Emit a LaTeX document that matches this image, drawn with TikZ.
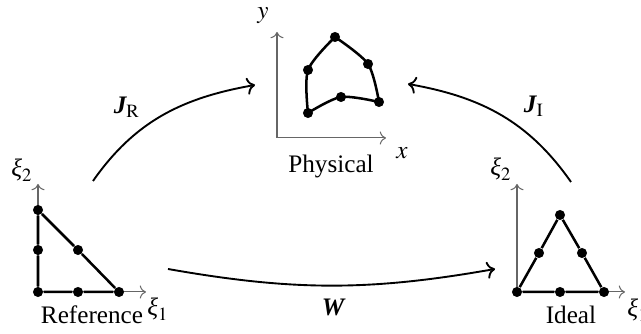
\documentclass[tikz,border=0pt]{standalone}
\usepackage{amsmath}
\usepackage{mathptmx}
\usepackage[no-math]{fontspec}
\setmainfont{Liberation Serif}
\usepackage{tikz}
\usetikzlibrary{arrows.meta,calc,positioning}

\newcommand{\vxi}{\mbox{\itshape ξ}}
\newcommand{\bfit}[1]{\mbox{\bfseries\itshape #1}}

\tikzset{
  vtx/.style={circle, fill=black, inner sep=0pt, minimum size=4pt},
  axis/.style={->, black!60, line width=0.4pt},
  edge/.style={line width=1pt},
  map/.style={->, line width=0.75pt},
}

\begin{document}
\begin{tikzpicture}[x=0.397pt, y=0.397pt]
            \useasboundingbox (0,0) rectangle (641,334);
            % Reference element
            \coordinate (ro) at (38,42);
            \coordinate (rx) at (146,42);
            \coordinate (ry) at (38,150);
            \draw[axis] (ro) -- (rx);
            \draw[axis] (ro) -- (ry);
            \node (rxione) at (158,25) {$\vxi_1$};
            \node (rxitwo) at (22,164) {$\vxi_2$};
            \node[vtx] (r1) at (38,42) {};
            \node[vtx] (r2) at (78,42) {};
            \node[vtx] (r3) at (119,42) {};
            \node[vtx] (r4) at (78,84) {};
            \node[vtx] (r5) at (38,124) {};
            \node[vtx] (r6) at (38,84) {};
            \draw[edge] (r1) -- (r2) -- (r3) -- (r4) -- (r5) -- (r6) -- (r1);
            \node (ref) at (92,19) {Reference};
            % Ideal element
            \coordinate (io) at (517,42);
            \coordinate (ix) at (625,42);
            \coordinate (iy) at (517,150);
            \draw[axis] (io) -- (ix);
            \draw[axis] (io) -- (iy);
            \node (ixione) at (638,24) {$\vxi_1$};
            \node (ixitwo) at (501,165) {$\vxi_2$};
            \node[vtx] (i1) at (517,42) {};
            \node[vtx] (i2) at (560,42) {};
            \node[vtx] (i3) at (604,42) {};
            \node[vtx] (i4) at (582,81) {};
            \node[vtx] (i5) at (560,119) {};
            \node[vtx] (i6) at (539,81) {};
            \draw[edge] (i1) -- (i2) -- (i3) -- (i4) -- (i5) -- (i6) -- (i1);
            \node (ideal) at (571,19) {Ideal};
            % Physical element
            \coordinate (po) at (277,196);
            \coordinate (px) at (386,196);
            \coordinate (py) at (277,302);
            \draw[axis] (po) -- (px);
            \draw[axis] (po) -- (py);
            \node (xlab) at (402,181) {$x$};
            \node (ylab) at (263,318) {$y$};
            \node[vtx] (p1) at (308,221) {};
            \node[vtx] (p2) at (341,237) {};
            \node[vtx] (p3) at (379,232) {};
            \node[vtx] (p4) at (368,270) {};
            \node[vtx] (p5) at (335,297) {};
            \node[vtx] (p6) at (308,264) {};
            \draw[edge] plot[smooth] coordinates {(p1) (p2) (p3)};
            \draw[edge] plot[smooth] coordinates {(p3) (p4) (p5)};
            \draw[edge] plot[smooth] coordinates {(p5) (p6) (p1)};
            \node (phys) at (331,168) {Physical};
            % Mappings
            \coordinate (jrs) at (93,153);
            \coordinate (jre) at (255,249);
            \coordinate (jis) at (571,152);
            \coordinate (jie) at (408,250);
            \coordinate (ws) at (168,65);
            \coordinate (we) at (495,65);
            \draw[map] (jrs) to[out=55, in=190] (jre);
            \draw[map] (jis) to[out=125, in=-10] (jie);
            \draw[map] (ws) to[bend right=10] (we);
            \node (jr) at (127,227) {$\bfit{J}_{\mathrm{R}}$};
            \node (ji) at (534,228) {$\bfit{J}_{\mathrm{I}}$};
            \node (w) at (333,27) {$\bfit{W}$};
        \end{tikzpicture}
\end{document}
